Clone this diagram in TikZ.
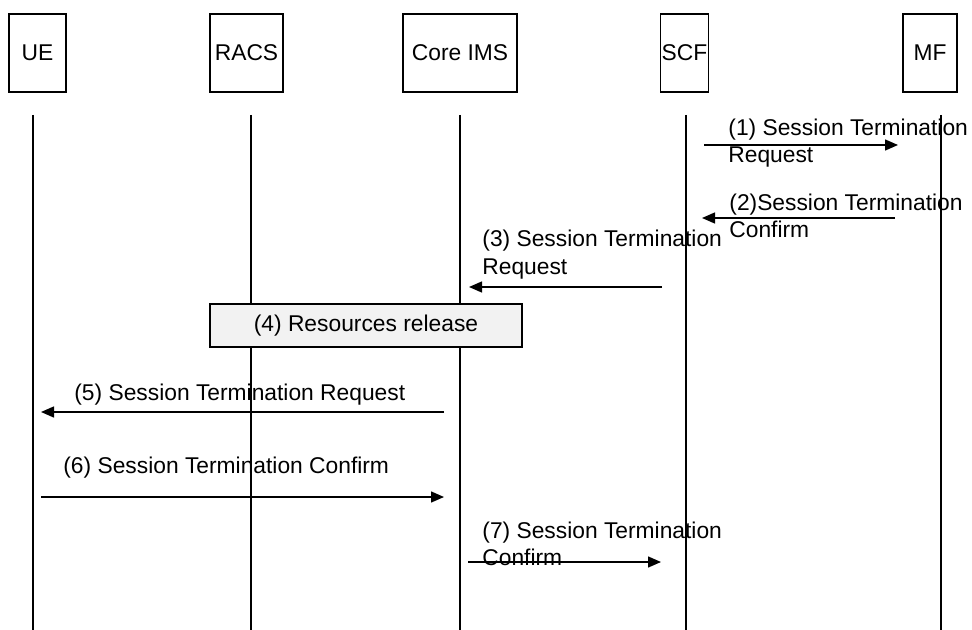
\documentclass[tikz,border=0pt]{standalone}
\usepackage{fontspec}
\setmainfont{Liberation Sans}
\usetikzlibrary{arrows.meta}
\tikzstyle{Entity} = [draw, line width=0.7pt, inner sep=0pt, minimum height=39pt]
\tikzstyle{Life} = [line width=0.65pt]
\tikzstyle{Action} = [draw, line width=0.7pt, fill=black!5, inner sep=0pt,
minimum width=156pt, minimum height=21.5pt]
\tikzstyle{Msg} = [line width=0.7pt, -{Triangle[length=6.5pt,width=5.5pt]}]
\tikzstyle{Label} = [anchor=base west, inner sep=0pt, align=left]

\begin{document}
\begin{tikzpicture}[x=0.5pt, y=-0.5pt, font=\fontsize{11.4}{13.5}\selectfont]
    \useasboundingbox (0,0) rectangle (972,630);

    \node [Entity, minimum width=28.5pt] (ue) at (37.5,53) {UE};
    \node [Entity, minimum width=36.5pt] (racs) at (246.5,53) {RACS};
    \node [Entity, minimum width=57pt] (ims) at (460,53) {Core IMS};
    \node [Entity, minimum width=24pt] (scf) at (684.5,53) {SCF};
    \node [Entity, minimum width=27pt] (mf) at (930,53) {MF};

    \coordinate (ue top) at (33,115);   \coordinate (ue bot) at (33,630);
    \coordinate (racs top) at (251,115); \coordinate (racs bot) at (251,630);
    \coordinate (ims top) at (460,115);  \coordinate (ims bot) at (460,630);
    \coordinate (scf top) at (686,115);  \coordinate (scf bot) at (686,630);
    \coordinate (mf top) at (941,115);   \coordinate (mf bot) at (941,630);

    \draw[Life] (ue top) to (ue bot);
    \draw[Life] (racs top) to (racs bot);
    \draw[Life] (ims top) to (ims bot);
    \draw[Life] (scf top) to (scf bot);
    \draw[Life] (mf top) to (mf bot);

    \node [Action] (4) at (366,325.5) {(4) Resources release};

    \coordinate (1a) at (704,145); \coordinate (1b) at (898,145);
    \coordinate (2a) at (895,218); \coordinate (2b) at (702,218);
    \coordinate (3a) at (662,287); \coordinate (3b) at (469,287);
    \coordinate (5a) at (444,412); \coordinate (5b) at (41,412);
    \coordinate (6a) at (41,497);  \coordinate (6b) at (444,497);
    \coordinate (7a) at (468,562); \coordinate (7b) at (661,562);

    \draw[Msg] (1a) to (1b);
    \draw[Msg] (2a) to (2b);
    \draw[Msg] (3a) to (3b);
    \draw[Msg] (5a) to (5b);
    \draw[Msg] (6a) to (6b);
    \draw[Msg] (7a) to (7b);

    \node [Label] (1) at (728,163) {(1) Session Termination\\Request};
    \node [Label] (2) at (729,238) {(2)Session Termination\\Confirm};
    \node [Label] (3) at (482,274) {(3) Session Termination\\Request};
    \node [Label] (5) at (74,400) {(5) Session Termination Request};
    \node [Label] (6) at (63,473) {(6) Session Termination Confirm};
    \node [Label] (7) at (482,565) {(7) Session Termination\\Confirm};
\end{tikzpicture}
\end{document}
